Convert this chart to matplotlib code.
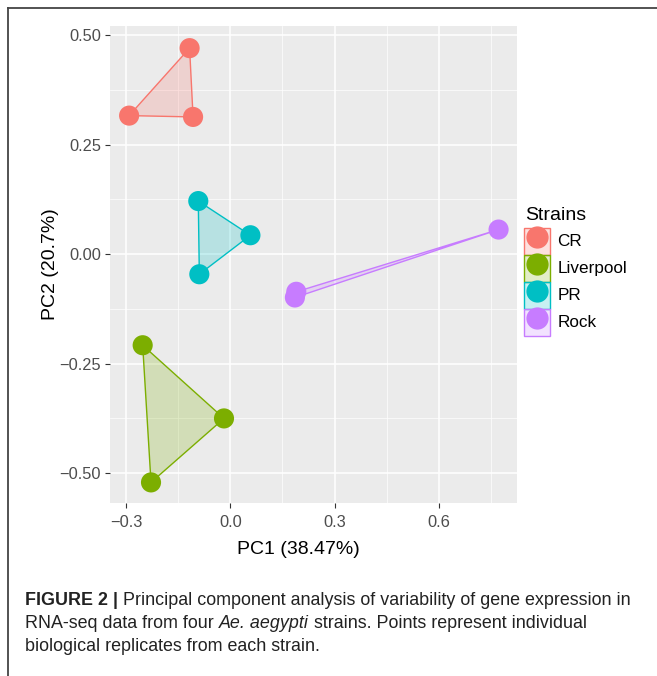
import numpy as np
import matplotlib.pyplot as plt
from matplotlib.patches import Polygon, Patch
from matplotlib.lines import Line2D

plt.rcParams['font.family'] = ['Liberation Sans', 'DejaVu Sans']

# PCA scores
strains = ["CR", "Liverpool", "PR", "Rock"]
colors = ["#F8766D", "#7CAE00", "#00BFC4", "#C77CFF"]
pc1 = {
    "CR": [-0.117, -0.291, -0.107],
    "Liverpool": [-0.252, -0.018, -0.228],
    "PR": [-0.092, 0.058, -0.089],
    "Rock": [0.772, 0.190, 0.186],
}
pc2 = {
    "CR": [0.470, 0.316, 0.313],
    "Liverpool": [-0.208, -0.375, -0.521],
    "PR": [0.121, 0.043, -0.046],
    "Rock": [0.056, -0.086, -0.099],
}
xticks = [-0.3, 0.0, 0.3, 0.6]
yticks = [-0.50, -0.25, 0.00, 0.25, 0.50]


def hull(pts):
    pts = sorted(map(tuple, pts))

    def cross(o, a, b):
        return (a[0] - o[0]) * (b[1] - o[1]) - (a[1] - o[1]) * (b[0] - o[0])

    lower, upper = [], []
    for p in pts:
        while len(lower) >= 2 and cross(lower[-2], lower[-1], p) <= 0:
            lower.pop()
        lower.append(p)
    for p in reversed(pts):
        while len(upper) >= 2 and cross(upper[-2], upper[-1], p) <= 0:
            upper.pop()
        upper.append(p)
    return lower[:-1] + upper[:-1]


def fmt(v, d):
    return ("%.*f" % (d, v)).replace("-", "\u2212")


fig = plt.figure(figsize=(6.57, 6.76), dpi=100)
ax = fig.add_axes([110 / 657, 1 - 503 / 676, 407 / 657, 477 / 676])
ax.set_facecolor("#EBEBEB")

for s, c in zip(strains, colors):
    pts = np.column_stack([pc1[s], pc2[s]])
    ax.add_patch(Polygon(hull(pts), closed=True, facecolor=c, alpha=0.22,
                         edgecolor="none", zorder=2))
    ax.add_patch(Polygon(hull(pts), closed=True, facecolor="none",
                         edgecolor=c, lw=1.0, zorder=3))
    ax.scatter(pc1[s], pc2[s], s=210, color=c, edgecolor="none", zorder=4)

ax.set_xlim(-0.346, 0.825)
ax.set_ylim(-0.568, 0.5205)
ax.set_xticks(xticks)
ax.set_xticklabels([fmt(v, 1) for v in xticks])
ax.set_yticks(yticks)
ax.set_yticklabels([fmt(v, 2) for v in yticks])
ax.set_xticks([-0.15, 0.15, 0.45, 0.75], minor=True)
ax.set_yticks([-0.375, -0.125, 0.125, 0.375], minor=True)
ax.grid(True, which="major", color="white", lw=1.1, zorder=0)
ax.grid(True, which="minor", color="white", lw=0.5, zorder=0)
ax.set_axisbelow(True)
ax.tick_params(which="major", length=3.5, width=0.8, color="#333333",
               labelsize=11.8, labelcolor="#4D4D4D")
ax.tick_params(axis="x", which="major", pad=5)
ax.tick_params(axis="y", which="major", pad=3)
ax.tick_params(which="minor", length=0)
for sp in ax.spines.values():
    sp.set_visible(False)
ax.set_xlabel("PC1 (38.47%)", fontsize=14, labelpad=8)
ax.xaxis.label.set_x((298.5 - 110) / 407)
ax.set_ylabel("PC2 (20.7%)", fontsize=14, labelpad=0)

handles = [(Patch(facecolor=c, alpha=0.22, edgecolor="none"),
            Patch(facecolor="none", edgecolor=c, lw=1.0),
            Line2D([], [], marker="o", ls="none", markersize=15, color=c))
           for c in colors]
leg = fig.legend(handles, strains, loc="upper left",
                 bbox_to_anchor=(524 / 657, 1 - 227.5 / 676), frameon=False,
                 fontsize=12.3, handlelength=1.5, handleheight=2.055,
                 labelspacing=0.0, handletextpad=0.45, borderpad=0,
                 borderaxespad=0)
fig.text(525 / 657, 1 - 215 / 676, "Strains", fontsize=14, va="center", ha="left")

# frame lines of the figure crop
fig.add_artist(Line2D([8 / 657, 1], [1 - 8 / 676, 1 - 8 / 676], color="#444444", lw=1.3))
fig.add_artist(Line2D([8 / 657, 8 / 657], [0, 1 - 8 / 676], color="#444444", lw=1.3))

# caption
cap_x = 25 / 657
cap_fs = 12.9
fig.canvas.draw()
r = fig.canvas.get_renderer()


def seg(x, y, txt, **kw):
    t = fig.text(x, y, txt, fontsize=cap_fs, color="#222222", va="baseline", **kw)
    bb = t.get_window_extent(renderer=r)
    return x + bb.width / fig.bbox.width


y1 = 1 - 605 / 676
x = seg(cap_x, y1, "FIGURE 2 | ", weight="bold")
seg(x, y1, "Principal component analysis of variability of gene expression in")
y2 = 1 - 628 / 676
x = seg(cap_x, y2, "RNA-seq data from four ")
x = seg(x, y2, "Ae. aegypti", style="italic")
seg(x, y2, " strains. Points represent individual")
seg(cap_x, 1 - 651 / 676, "biological replicates from each strain.")

fig.savefig("out.png", dpi=100)
